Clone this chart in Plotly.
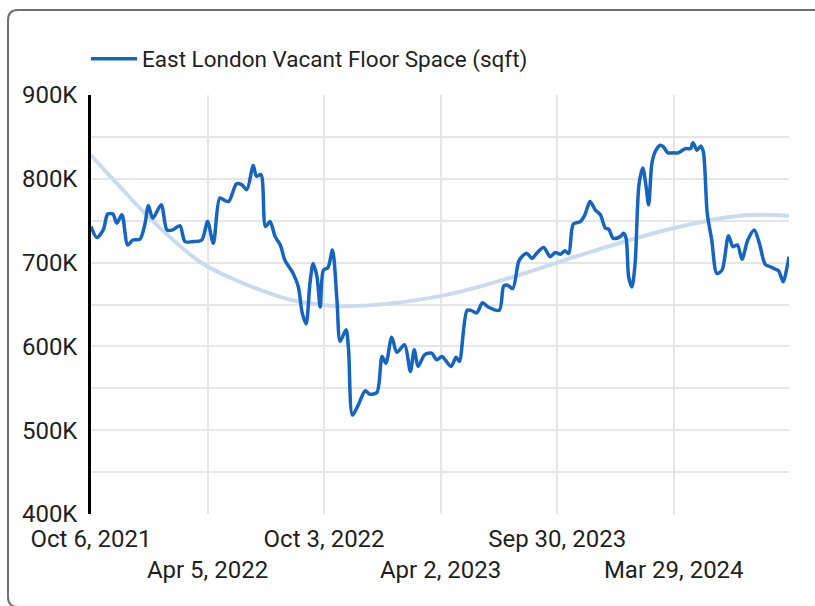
import plotly.graph_objects as go
import pandas as pd

# ---------------- data ----------------
START_DATE = "2021-10-06"

# days after START_DATE for each observation
day_offsets = [0, 9, 19, 26, 34, 40, 48, 57, 65, 76, 84, 89, 96, 109, 118, 127, 138, 146,
               157, 172, 181, 190, 200, 208, 214, 226, 234, 242, 252, 257, 264, 271, 278,
               286, 294, 301, 314, 322, 328, 334, 340, 345, 351, 356, 361, 368, 375, 382,
               387, 396, 400, 406, 415, 426, 433, 444, 452, 458, 467, 475, 487, 496, 502,
               508, 518, 529, 537, 545, 559, 567, 572, 584, 590, 599, 608, 617, 634, 641,
               647, 655, 664, 669, 677, 685, 692, 703, 713, 721, 729, 736, 742, 749, 760,
               767, 775, 783, 791, 799, 804, 811, 822, 827, 831, 835, 840, 845, 851, 857,
               862, 866, 871, 876, 884, 889, 896, 905, 912, 923, 931, 935, 941, 947, 951,
               957, 964, 972, 980, 990, 997, 1004, 1011, 1020, 1030, 1038, 1047, 1055,
               1063, 1068, 1075, 1080, 1084]

# vacant floor space, thousands of sqft
vacant_k = [743, 730, 739, 758, 758, 747, 757, 721, 727, 728, 747, 768, 753, 769, 739, 739,
            744, 725, 725, 727, 749, 723, 777, 774, 773, 794, 793, 787, 816, 803, 805, 743,
            749, 731, 721, 703, 687, 671, 640, 627, 675, 699, 683, 647, 691, 694, 715, 655,
            606, 620, 596, 518, 530, 547, 543, 545, 588, 580, 611, 593, 602, 570, 596, 576,
            590, 592, 584, 588, 576, 587, 582, 643, 643, 640, 652, 647, 643, 672, 673, 669,
            701, 707, 711, 705, 711, 718, 707, 712, 710, 714, 711, 746, 749, 757, 773, 763,
            757, 741, 740, 729, 731, 735, 729, 683, 671, 699, 793, 813, 791, 769, 818, 832,
            840, 838, 831, 831, 831, 836, 836, 843, 834, 839, 832, 759, 727, 687, 691, 732,
            719, 721, 704, 727, 739, 723, 698, 695, 692, 690, 677, 691, 707]

# trend line
trend_days = [0, 42, 94, 169, 219, 294, 325, 397, 542, 656, 760, 904, 1008, 1084]
trend_k = [828, 793, 751, 701, 681, 659, 653, 648, 660, 683, 709, 741, 756, 756]

series_name = "East London Vacant Floor Space (sqft)"

x_tick_dates = ["2021-10-06", "2022-04-05", "2022-10-03", "2023-04-02", "2023-09-30", "2024-03-29"]
x_tick_labels = ["Oct 6, 2021", "\u00a0<br>Apr 5, 2022", "Oct 3, 2022",
                 "\u00a0<br>Apr 2, 2023", "Sep 30, 2023", "\u00a0<br>Mar 29, 2024"]
y_tick_vals = [400000, 500000, 600000, 700000, 800000, 900000]
y_tick_labels = ["400K", "500K", "600K", "700K", "800K", "900K"]

# ---------------- build ----------------
start = pd.Timestamp(START_DATE)
dates = start + pd.to_timedelta(day_offsets, unit="D")
trend_dates = start + pd.to_timedelta(trend_days, unit="D")
values = [v * 1000 for v in vacant_k]
trend_values = [v * 1000 for v in trend_k]

W, H = 815, 606
ML, MR, MT, MB = 91, 26, 95, 92
PW, PH = W - ML - MR, H - MT - MB

fig = go.Figure()
fig.add_trace(go.Scatter(
    x=trend_dates, y=trend_values, mode="lines", showlegend=False, hoverinfo="skip",
    line=dict(color="#c9dbf1", width=4, shape="spline", smoothing=1.0),
))
fig.add_trace(go.Scatter(
    x=dates, y=values, mode="lines", name=series_name,
    line=dict(color="#1565c0", width=3.5, shape="spline", smoothing=0.8),
))

def px_x(p):
    return (p - ML) / PW

def px_y(p):
    return (H - MB - p) / PH

# card border: top and left edges with a rounded top-left corner
BORDER = dict(color="#707070", width=2)
L, T, B, R = px_x(8), px_y(10), px_y(607), px_x(816)
rx, ry = 10 / PW, 10 / PH
shapes = [
    dict(type="line", xref="paper", yref="paper", x0=L + rx, x1=R, y0=T, y1=T, line=BORDER, layer="below"),
    dict(type="line", xref="paper", yref="paper", x0=L, x1=L, y0=T - ry, y1=B + ry, line=BORDER, layer="below"),
    dict(type="path", xref="paper", yref="paper", layer="below", line=BORDER,
         path=f"M {L},{T - ry} Q {L},{T} {L + rx},{T}"),
    dict(type="path", xref="paper", yref="paper", layer="below", line=BORDER,
         path=f"M {L},{B + ry} Q {L},{B} {L + rx},{B}"),
]

fig.update_layout(
    width=W, height=H,
    margin=dict(l=ML, r=MR, t=MT, b=MB, autoexpand=False),
    paper_bgcolor="white", plot_bgcolor="white",
    font=dict(family="Roboto", size=24, color="#1f1f1f"),
    showlegend=True,
    legend=dict(x=px_x(86), y=px_y(59), xanchor="left", yanchor="middle",
                orientation="h", font=dict(size=22.5, color="#1f1f1f"),
                bgcolor="rgba(0,0,0,0)", itemwidth=46),
    shapes=shapes,
)

fig.update_xaxes(
    type="date", range=[dates[0], dates[-1]],
    tickmode="array", tickvals=x_tick_dates, ticktext=x_tick_labels,
    showgrid=True, gridcolor="#e6e6e6", gridwidth=2,
    showline=False, zeroline=False, ticks="", ticklabelstandoff=8, tickangle=0,
    tickfont=dict(size=24),
)
fig.update_yaxes(
    range=[400000, 900000],
    tickmode="array", tickvals=y_tick_vals, ticktext=y_tick_labels,
    showgrid=True, gridcolor="#e6e6e6", gridwidth=2,
    minor=dict(dtick=50000, showgrid=True, gridcolor="#e6e6e6", gridwidth=2, ticks=""),
    showline=True, linecolor="black", linewidth=2.5,
    zeroline=False, ticks="", ticklabelstandoff=6,
    tickfont=dict(size=24),
)

fig.write_html(
    "out.html",
    config={"responsive": False, "displayModeBar": False},
    post_script="document.body.style.margin='0';document.body.style.overflow='hidden';",
)
